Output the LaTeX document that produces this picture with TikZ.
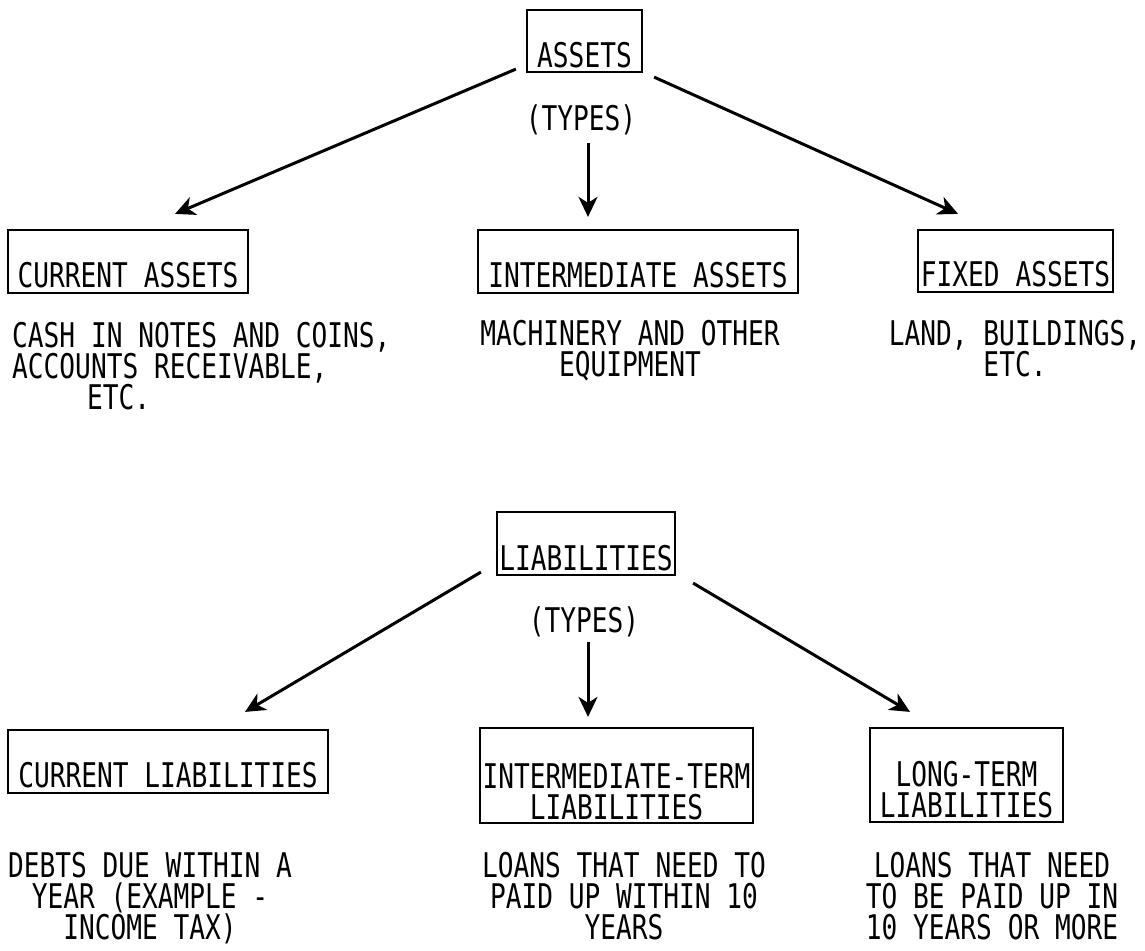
\documentclass[tikz,border=0pt]{standalone}
\usepackage{fontspec}
\newfontfamily\plotfont[FakeStretch=0.77]{DejaVu Sans Mono}
\usetikzlibrary{arrows.meta}
\tikzset{
  every node/.style={inner sep=0pt, font=\plotfont\fontsize{34}{31}\selectfont},
  boxnode/.style={draw, line width=2.2pt, align=center},
  desc/.style={align=center, anchor=north},
  arr/.style={line width=3pt, -{Stealth[length=20pt,width=19pt,inset=6pt]}},
}
\begin{document}
\begin{tikzpicture}[x=1pt,y=-1pt]
\useasboundingbox[fill=white] (0,0) rectangle (1145,950);

% ---------- ASSETS ----------
\node[boxnode, minimum width=115pt, minimum height=62pt, text height=57pt, text depth=5pt] (assets) at (584.5,41) {ASSETS};
\node[text height=22pt, text depth=0pt] (typesA) at (581,119) {(TYPES)};

\node[boxnode, minimum width=240pt, minimum height=63pt, text height=57pt, text depth=6pt] (curA) at (128,261.5) {CURRENT ASSETS};
\node[boxnode, minimum width=320pt, minimum height=63pt, text height=57pt, text depth=6pt] (intA) at (638,261.5) {INTERMEDIATE ASSETS};
\node[boxnode, minimum width=195pt, minimum height=62pt, text height=56pt, text depth=6pt] (fixA) at (1015.5,261) {FIXED ASSETS};

\node[desc, align=left, anchor=north west] (cashT) at (12,322) {CASH IN NOTES AND COINS,\\ACCOUNTS RECEIVABLE,\\\hspace{75pt}ETC.};
\node[desc] (machT) at (630,320) {MACHINERY AND OTHER\\EQUIPMENT};
\node[desc] (landT) at (1015,320) {LAND, BUILDINGS,\\ETC.};

\draw[arr] ([shift={(-10,-4)}]assets.south west) -- ([shift={(47,-15)}]curA.north);
\draw[arr] ([shift={(7,13)}]typesA.south) -- ([shift={(-50,-12)}]intA.north);
\draw[arr] ([shift={(11,4)}]assets.south east) -- ([shift={(-57.5,-15)}]fixA.north);

% ---------- LIABILITIES ----------
\node[boxnode, minimum width=178pt, minimum height=63pt, text height=58pt, text depth=5pt] (liab) at (586,543.5) {LIABILITIES};
\node[text height=22pt, text depth=0pt] (typesB) at (584,621) {(TYPES)};

\node[boxnode, minimum width=320pt, minimum height=63pt, text height=57pt, text depth=6pt] (curL) at (168,761.5) {CURRENT LIABILITIES};
\node[boxnode, minimum width=273pt, minimum height=95pt, text height=91pt, text depth=4pt] (intL) at (616.5,775.5) {INTERMEDIATE-TERM\\LIABILITIES};
\node[boxnode, minimum width=193pt, minimum height=94pt, text height=89pt, text depth=5pt] (lngL) at (966.5,775) {LONG-TERM\\LIABILITIES};

\node[desc] (debtsT) at (150,852) {DEBTS DUE WITHIN A\\YEAR (EXAMPLE -\\INCOME TAX)};
\node[desc] (loansA) at (624,852) {LOANS THAT NEED TO\\PAID UP WITHIN 10\\YEARS};
\node[desc] (loansB) at (992,852) {LOANS THAT NEED\\TO BE PAID UP IN\\10 YEARS OR MORE};

\draw[arr] ([shift={(-15,-4)}]liab.south west) -- ([shift={(77,-17)}]curL.north);
\draw[arr] ([shift={(4,10)}]typesB.south) -- ([shift={(-28.5,-10)}]intL.north);
\draw[arr] ([shift={(17,7)}]liab.south east) -- ([shift={(-56.5,-15)}]lngL.north);
\end{tikzpicture}
\end{document}
